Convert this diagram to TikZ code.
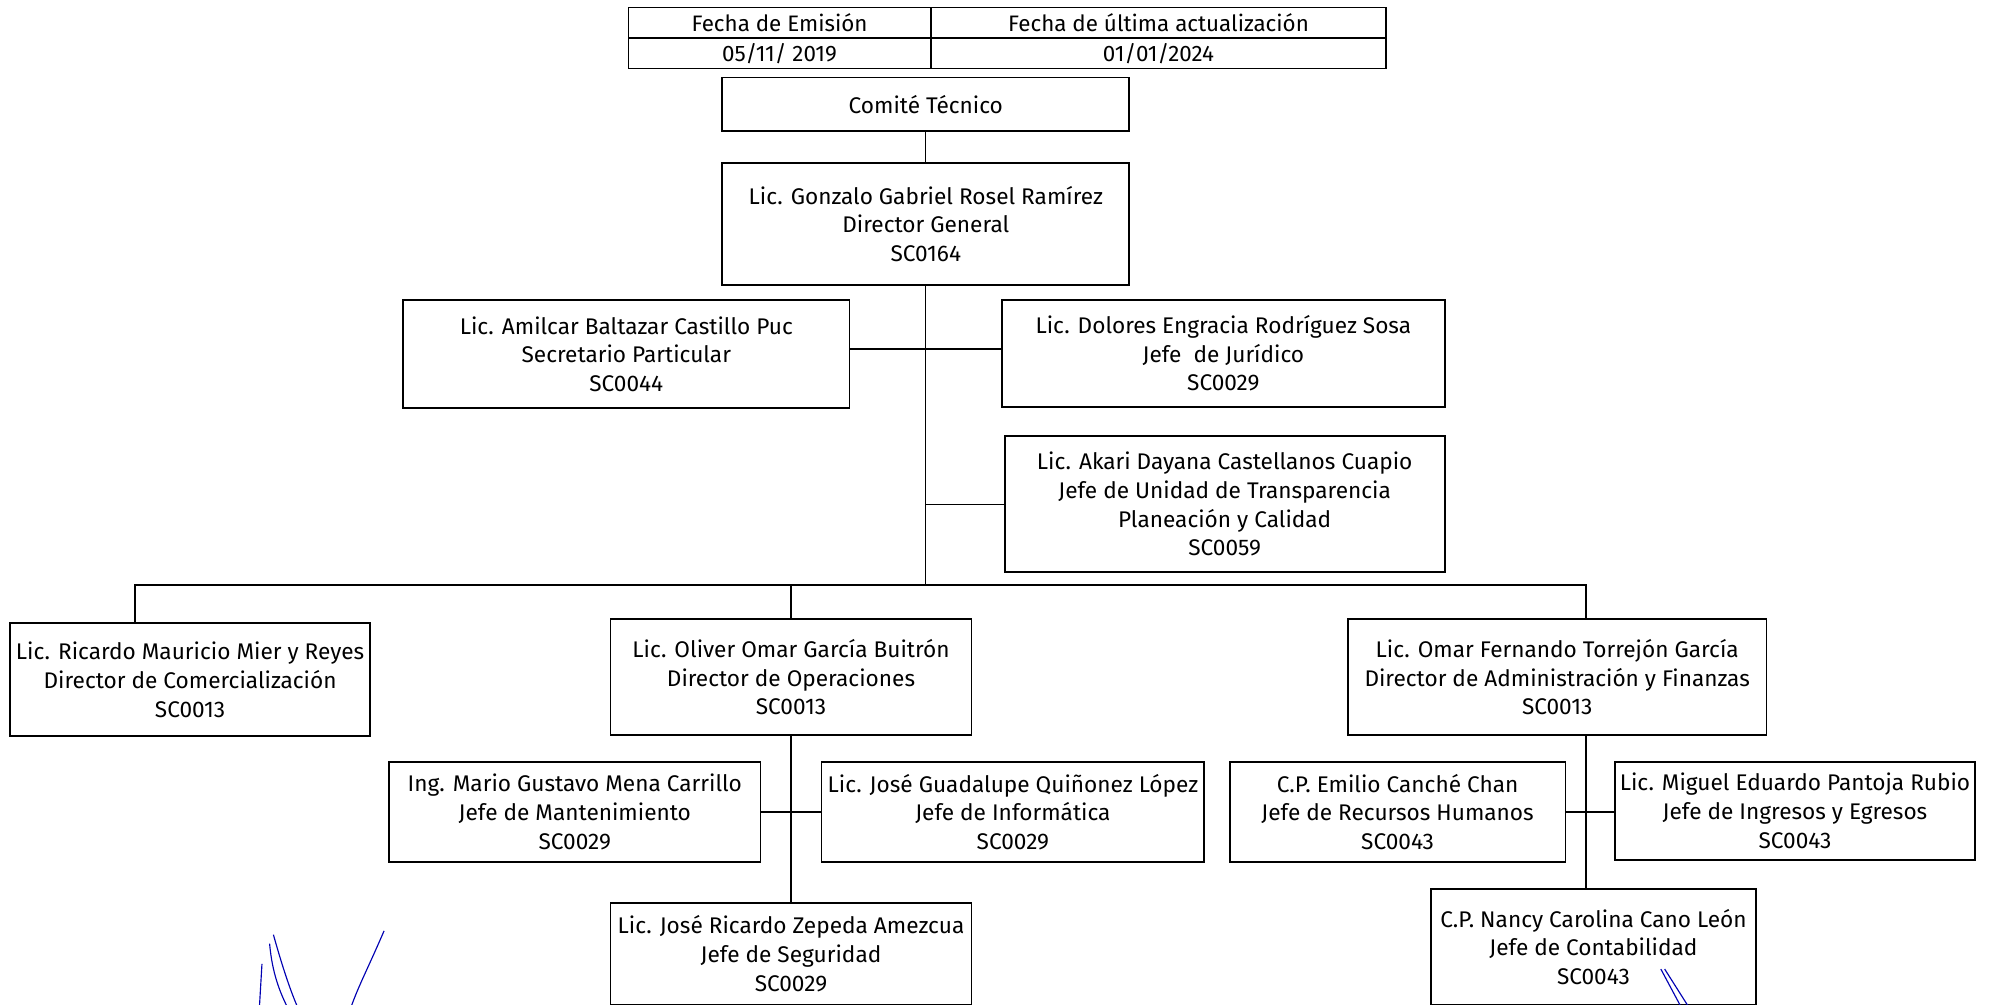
\documentclass[tikz,border=0pt]{standalone}
\usepackage{fontspec}
\setmainfont{Fira Sans}
\begin{document}
\begin{tikzpicture}[x=1pt,y=-1pt,
  box/.style={draw, line width=1.4pt, inner sep=0pt, align=center, font=\fontsize{17.8}{22.5}\selectfont},
  cell/.style={draw, line width=1.1pt, inner sep=0pt, align=center, font=\fontsize{17.6}{20}\selectfont},
  conn/.style={line width=1.1pt},
  sig/.style={draw=blue!70!black, line width=0.9pt}]
\useasboundingbox (0,0) rectangle (1568,790);
% header table
\node[cell, minimum width=238, minimum height=24] (h1) at (613,18) {Fecha de Emisión};
\node[cell, minimum width=358, minimum height=24] (h2) at (911,18) {Fecha de última actualización};
\node[cell, minimum width=238, minimum height=24] (d1) at (613,42) {05/11/ 2019};
\node[cell, minimum width=358, minimum height=24] (d2) at (911,42) {01/01/2024};
% boxes
\node[box, minimum width=320, minimum height=42] (com) at (728,82) {Comité Técnico};
\node[box, minimum width=320, minimum height=96] (dir) at (728,176) {Lic. Gonzalo Gabriel Rosel Ramírez\\Director General\\SC0164};
\node[box, minimum width=351, minimum height=85] (sec) at (492.5,278.5) {Lic. Amilcar Baltazar Castillo Puc\\Secretario Particular\\SC0044};
\node[box, minimum width=348, minimum height=84] (jur) at (962,278) {Lic. Dolores Engracia Rodríguez Sosa\\Jefe\ \ de Jurídico\\SC0029};
\node[box, minimum width=346, minimum height=107] (aka) at (963,396.5) {Lic. Akari Dayana Castellanos Cuapio\\Jefe de Unidad de Transparencia\\Planeación y Calidad\\SC0059};
\node[box, minimum width=283, minimum height=89] (ric) at (149.5,534.5) {Lic. Ricardo Mauricio Mier y Reyes\\Director de Comercialización\\SC0013};
\node[box, minimum width=284, minimum height=91] (oli) at (622,532.5) {Lic. Oliver Omar García Buitrón\\Director de Operaciones\\SC0013};
\node[box, minimum width=329, minimum height=91] (omar) at (1224.5,532.5) {Lic. Omar Fernando Torrejón García\\Director de Administración y Finanzas\\SC0013};
\node[box, minimum width=292, minimum height=79] (mar) at (452,638.5) {Ing. Mario Gustavo Mena Carrillo\\Jefe de Mantenimiento\\SC0029};
\node[box, minimum width=301, minimum height=79] (jos) at (796.5,638.5) {Lic. José Guadalupe Quiñonez López\\Jefe de Informática\\SC0029};
\node[box, minimum width=284, minimum height=80] (seg) at (622,750) {Lic. José Ricardo Zepeda Amezcua\\Jefe de Seguridad\\SC0029};
\node[box, minimum width=264, minimum height=79] (emi) at (1099,638.5) {C.P. Emilio Canché Chan\\Jefe de Recursos Humanos\\SC0043};
\node[box, minimum width=283, minimum height=77] (mig) at (1411.5,637.5) {Lic. Miguel Eduardo Pantoja Rubio\\Jefe de Ingresos y Egresos\\SC0043};
\node[box, minimum width=256, minimum height=91] (nan) at (1253,744.5) {C.P. Nancy Carolina Cano León\\Jefe de Contabilidad\\SC0043};
% connectors
\coordinate (bus) at (728,460);
\draw[conn] (com.south) -- (dir.north);
\draw[conn] (dir.south) -- (bus);
\draw[conn] ([yshift=4pt]sec.east) -- ([yshift=4pt]sec.east -| jur.west);
\draw[conn] (aka.west) -- (aka.west -| dir.south);
\draw[conn] ([xshift=99pt]ric.north west) |- (bus) -| ([xshift=188pt]omar.north west);
\draw[conn] (oli.north) -- (oli.north |- bus);
\draw[conn] (oli.south) -- (seg.north);
\draw[conn] (mar.east) -- (jos.west);
\draw[conn] ([xshift=188pt]omar.south west) -- ([xshift=188pt]omar.south west |- nan.north);
\draw[conn] (emi.east) -- (emi.east -| mig.west);
% signature strokes
\draw[sig] (302,732) .. controls (290,760) and (282,775) .. (276,792);
\draw[sig] (215,735) .. controls (222,760) and (228,778) .. (234,792);
\draw[sig] (212,742) .. controls (214,765) and (220,780) .. (226,792);
\draw[sig] (206,758) -- (204,792);
\draw[sig] (1306,762) -- (1322,792);
\draw[sig] (1309,762) -- (1328,792);
\end{tikzpicture}
\end{document}
